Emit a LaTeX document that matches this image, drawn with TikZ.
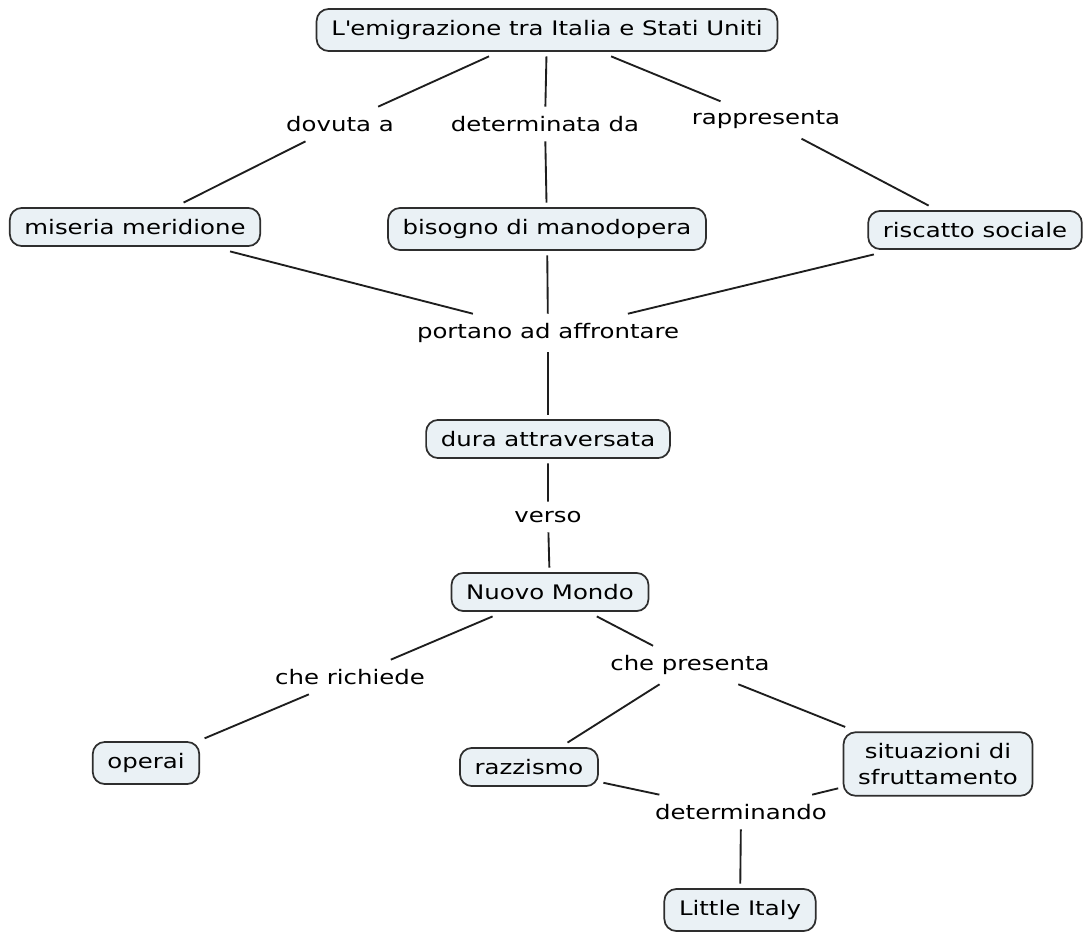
\documentclass[tikz,border=0pt]{standalone}
\usepackage{fontspec}
\setmainfont[FakeStretch=1.22]{DejaVu Sans}
\usepackage{tikz}
\usepackage{xcolor}
\usetikzlibrary{positioning}
\definecolor{Concept_Fill}{HTML}{EAF1F5}
\definecolor{Concept_Line}{HTML}{2E2E2E}
\definecolor{Link_Line}{HTML}{1E1E1E}

\begin{document}
\begin{tikzpicture}[x=0.75pt, y=-0.75pt,
    concept/.style={draw=Concept_Line, line width=1.3pt, fill=Concept_Fill, rounded corners=9pt,
        inner xsep=11pt, inner ysep=8.5pt, outer sep=4pt, font=\fontsize{15}{18}\selectfont, align=center},
    linkword/.style={inner xsep=6pt, inner ysep=7pt, font=\fontsize{15}{18}\selectfont},
    link/.style={draw=Link_Line, line width=1.4pt}]
    \useasboundingbox (0,0) rectangle (1084,935);

    % Concepts
    \node[concept] (emigr) at (547,30) {L\textquotesingle emigrazione tra Italia e Stati Uniti};
    \node[concept] (miseria) at (135,227) {miseria meridione};
    \node[concept] (bisogno) at (547,229) {bisogno di manodopera};
    \node[concept] (riscatto) at (975,230) {riscatto sociale};
    \node[concept] (dura) at (548,439) {dura attraversata};
    \node[concept] (nuovo) at (550,592) {Nuovo Mondo};
    \node[concept] (operai) at (146,763) {operai};
    \node[concept] (razzismo) at (529,767) {razzismo};
    \node[concept, inner ysep=8pt, font=\fontsize{15}{20}\selectfont] (sfrutt) at (938,764) {situazioni di\\sfruttamento};
    \node[concept] (little) at (740,910) {Little Italy};

    % Linking words
    \node[linkword] (dovuta) at (340,124) {dovuta a};
    \node[linkword] (determinata) at (545,124) {determinata da};
    \node[linkword] (rappr) at (766,120) {rappresenta};
    \node[linkword] (portano) at (548,333) {portano ad affrontare};
    \node[linkword] (verso) at (548,517) {verso};
    \node[linkword] (richiede) at (350,677) {che richiede};
    \node[linkword] (presenta) at (690,665) {che presenta};
    \node[linkword] (determ) at (741,812) {determinando};

    % Connections
    \draw[link] (emigr) -- (dovuta) -- (miseria);
    \draw[link] (emigr) -- (determinata) -- (bisogno);
    \draw[link] (emigr) -- (rappr) -- (riscatto);
    \draw[link] (miseria) -- (portano);
    \draw[link] (bisogno) -- (portano);
    \draw[link] (riscatto) -- (portano);
    \draw[link] (portano) -- (dura);
    \draw[link] (dura) -- (verso) -- (nuovo);
    \draw[link] (nuovo) -- (richiede) -- (operai);
    \draw[link] (nuovo) -- (presenta);
    \draw[link] (presenta) -- (razzismo);
    \draw[link] (presenta) -- (sfrutt);
    \draw[link] (razzismo) -- (determ);
    \draw[link] (sfrutt) -- (determ);
    \draw[link] (determ) -- (little);

\end{tikzpicture}
\end{document}
